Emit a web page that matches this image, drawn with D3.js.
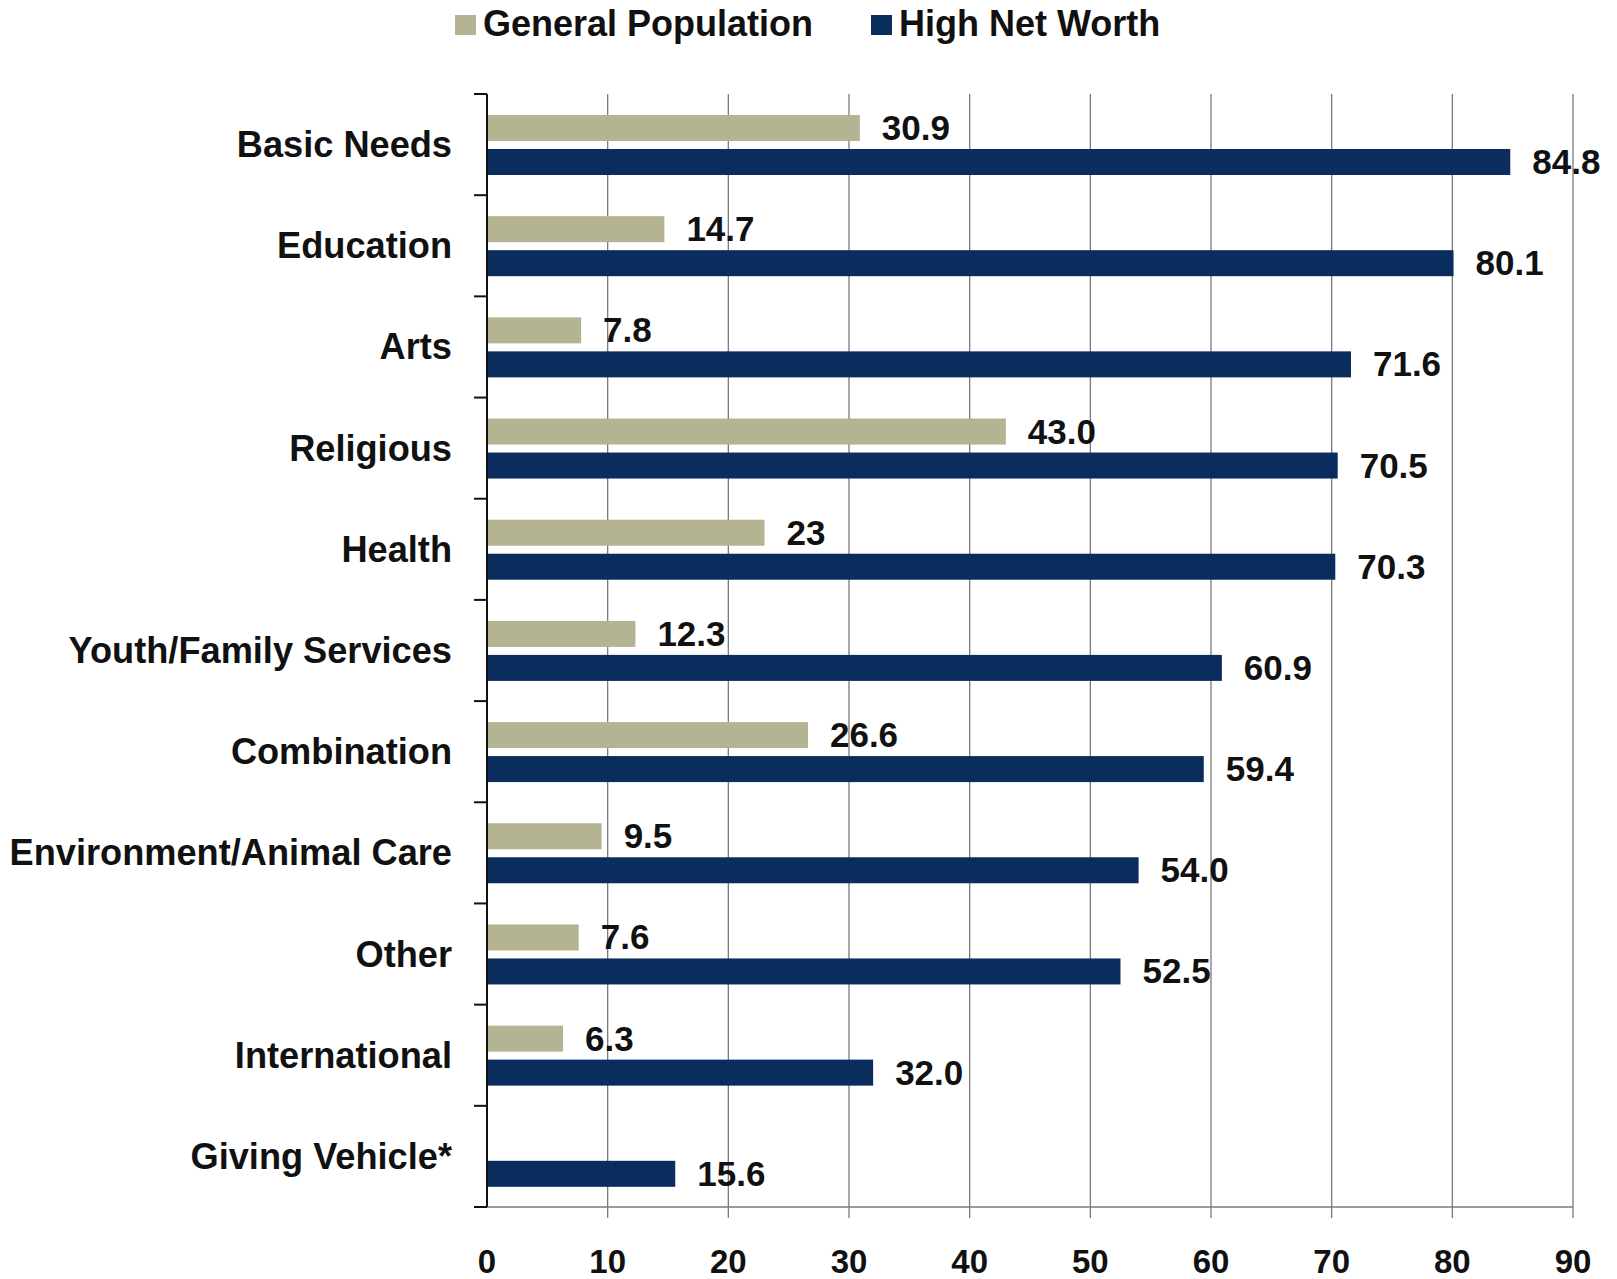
<!DOCTYPE html>
<html>
<head>
<meta charset="utf-8">
<script src="https://cdn.jsdelivr.net/npm/d3@7"></script>
<style>
  body { margin: 0; background: #fff; }
  text { font-family: "Liberation Sans", Arial, sans-serif; font-weight: bold; fill: #111; }
</style>
</head>
<body>
<div id="chart"></div>
<script>
const categories = ['Basic Needs', 'Education', 'Arts', 'Religious', 'Health',
    'Youth/Family Services', 'Combination', 'Environment/Animal Care', 'Other',
    'International', 'Giving Vehicle*'];
const generalPopulation = [30.9, 14.7, 7.8, 43.0, 23, 12.3, 26.6, 9.5, 7.6, 6.3, null];
const generalLabels = ['30.9', '14.7', '7.8', '43.0', '23', '12.3', '26.6', '9.5', '7.6', '6.3', ''];
const highNetWorth = [84.8, 80.1, 71.6, 70.5, 70.3, 60.9, 59.4, 54.0, 52.5, 32.0, 15.6];
const highLabels = ['84.8', '80.1', '71.6', '70.5', '70.3', '60.9', '59.4', '54.0', '52.5', '32.0', '15.6'];
const xTicks = [0, 10, 20, 30, 40, 50, 60, 70, 80, 90];
const seriesNames = ['General Population', 'High Net Worth'];
const seriesColors = ['#b4b392', '#0b2d5e'];

const width = 1617, height = 1279;
const plotLeft = 487, plotRight = 1573, plotTop = 94, plotBottom = 1207;

const svg = d3.select('#chart').append('svg')
    .attr('width', width)
    .attr('height', height);

const x = d3.scaleLinear([0, 90], [plotLeft, plotRight]);
const y = d3.scaleBand(categories, [plotTop, plotBottom]);
// two bars inside each category band
const sub = d3.scaleBand([0, 1], [21, 81]).paddingInner(0.235);

// gridlines (extend a little below the axis as ticks)
svg.append('g')
    .selectAll('line')
    .data(xTicks.slice(1))
    .join('line')
    .attr('x1', d => x(d)).attr('x2', d => x(d))
    .attr('y1', plotTop).attr('y2', plotBottom + 11)
    .attr('stroke', '#7a7a7a')
    .attr('stroke-width', 1.3);

// bottom axis line
svg.append('line')
    .attr('x1', plotLeft).attr('x2', plotRight)
    .attr('y1', plotBottom).attr('y2', plotBottom)
    .attr('stroke', '#7a7a7a')
    .attr('stroke-width', 1.5);

// x tick labels
svg.append('g')
    .selectAll('text')
    .data(xTicks)
    .join('text')
    .attr('x', d => x(d))
    .attr('y', 1273)
    .attr('text-anchor', 'middle')
    .style('font-size', '33px')
    .text(d => d);

// bars
const groups = svg.append('g')
    .selectAll('g')
    .data(categories)
    .join('g')
    .attr('transform', d => `translate(0,${y(d)})`);

const series = [generalPopulation, highNetWorth];
const labels = [generalLabels, highLabels];

series.forEach((values, s) => {
    const present = groups.filter((d, i) => values[i] != null);

    present.append('rect')
        .attr('x', x(0))
        .attr('y', sub(s))
        .attr('width', d => x(values[categories.indexOf(d)]) - x(0))
        .attr('height', sub.bandwidth())
        .attr('fill', seriesColors[s]);

    present.append('text')
        .attr('x', d => x(values[categories.indexOf(d)]) + 22)
        .attr('y', sub(s) + sub.bandwidth() / 2 + 12)
        .style('font-size', '35px')
        .text(d => labels[s][categories.indexOf(d)]);
});

// y axis line and ticks
svg.append('line')
    .attr('x1', plotLeft).attr('x2', plotLeft)
    .attr('y1', plotTop).attr('y2', plotBottom)
    .attr('stroke', '#111')
    .attr('stroke-width', 2);

svg.append('g')
    .selectAll('line')
    .data(categories.map(c => y(c)).concat([plotBottom]))
    .join('line')
    .attr('x1', plotLeft - 13).attr('x2', plotLeft)
    .attr('y1', d => d).attr('y2', d => d)
    .attr('stroke', '#111')
    .attr('stroke-width', 2);

// category labels
svg.append('g')
    .selectAll('text')
    .data(categories)
    .join('text')
    .attr('x', 452)
    .attr('y', d => y(d) + y.bandwidth() / 2 + 12.5)
    .attr('text-anchor', 'end')
    .style('font-size', '36.2px')
    .text(d => d);

// legend
const legendX = [455, 871];
const legend = svg.append('g')
    .selectAll('g')
    .data(seriesNames)
    .join('g')
    .attr('transform', (d, i) => `translate(${legendX[i]},0)`);

legend.append('rect')
    .attr('x', 0).attr('y', 15)
    .attr('width', 21).attr('height', 20)
    .attr('fill', (d, i) => seriesColors[i]);

legend.append('text')
    .attr('x', 28)
    .attr('y', 36)
    .style('font-size', '36px')
    .text(d => d);
</script>
</body>
</html>
